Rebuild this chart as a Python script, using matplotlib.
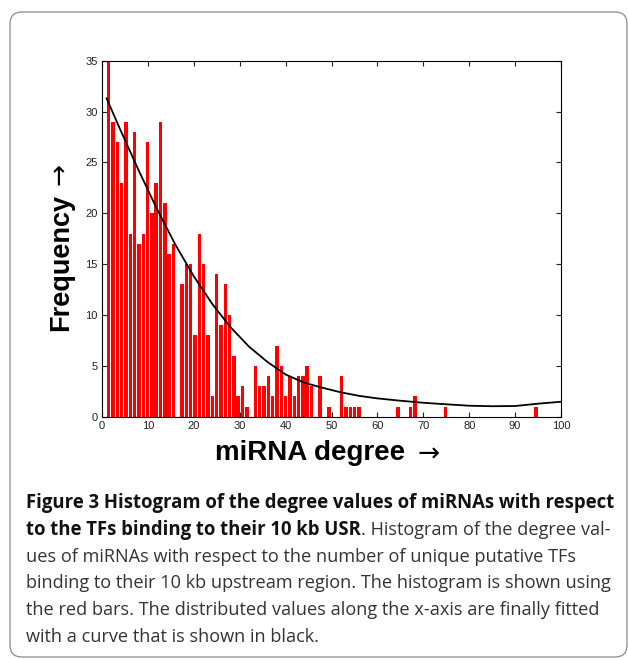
import numpy as np
import matplotlib
matplotlib.use('Agg')
import matplotlib.pyplot as plt
from matplotlib.patches import FancyBboxPatch

# ---------------- data ----------------
degree_min = 1
degree_max = 95
counts = [35, 29, 27, 23, 29, 18, 28, 17, 18, 27,
          20, 23, 29, 21, 16, 17, 0, 13, 15, 15,
          8, 18, 15, 8, 2, 14, 9, 13, 10, 6,
          2, 3, 1, 0, 5, 3, 3, 4, 2, 7,
          5, 2, 4, 2, 4, 4, 5, 3, 0, 4,
          0, 1, 0, 0, 4, 1, 1, 1, 1, 0,
          0, 0, 0, 0, 0, 0, 0, 1, 0, 0,
          1, 2, 0, 0, 0, 0, 0, 0, 1, 0,
          0, 0, 0, 0, 0, 0, 0, 0, 0, 0,
          0, 0, 0, 0, 0, 0, 0, 0, 0, 1]
curve_x = [1, 4, 8, 12, 16, 20, 24, 28, 32, 36, 40, 44, 48, 52, 56, 60,
           65, 70, 75, 80, 85, 90, 95, 100]
curve_y = [31.3, 28.2, 24.2, 20.4, 16.9, 13.8, 11.1, 8.8, 6.9, 5.4, 4.15, 3.35,
           2.85, 2.4, 2.05, 1.8, 1.57, 1.37, 1.22, 1.08, 1.03, 1.05, 1.28, 1.47]
x_ticks = [0, 10, 20, 30, 40, 50, 60, 70, 80, 90, 100]
y_ticks = [0, 5, 10, 15, 20, 25, 30, 35]
x_label = 'miRNA degree'
y_label = 'Frequency'
arrow = '\u2192'
cap_bold_1 = 'Figure 3 Histogram of the degree values of miRNAs with respect'
cap_bold_2 = 'to the TFs binding to their 10 kb USR'
cap_norm_2 = '. Histogram of the degree val-'
cap_lines = ['ues of miRNAs with respect to the number of unique putative TFs',
             'binding to their 10 kb upstream region. The histogram is shown using',
             'the red bars. The distributed values along the x-axis are finally fitted',
             'with a curve that is shown in black.']

# ---------------- figure ----------------
W, H = 628, 660
fig = plt.figure(figsize=(W / 100, H / 100), dpi=100)
fig.patch.set_facecolor('white')

bg = fig.add_axes([0, 0, 1, 1])
bg.set_xlim(0, W)
bg.set_ylim(H, 0)
bg.axis('off')
frame = FancyBboxPatch((10, 12), 617, 645, boxstyle='round,pad=0,rounding_size=12',
                       fill=False, ec='#8a8a8a', lw=0.9)
bg.add_patch(frame)

ax_l, ax_r, ax_t, ax_b = 102, 561, 60.7, 416.7
ax = fig.add_axes([ax_l / W, 1 - ax_b / H, (ax_r - ax_l) / W, (ax_b - ax_t) / H])
edges = np.linspace(degree_min, degree_max, len(counts) + 1)
centers = (edges[:-1] + edges[1:]) / 2
bw = (edges[1] - edges[0]) * 0.8
ax.bar(centers, counts, width=bw, color='#ff0000', edgecolor='none', zorder=2)
ax.plot(curve_x, curve_y, color='black', lw=1.3, zorder=3)
ax.set_xlim(0, 100)
ax.set_ylim(0, 35)
ax.set_xticks(x_ticks)
ax.set_yticks(y_ticks)
tick_font = ['Liberation Sans', 'DejaVu Sans']
ax.tick_params(direction='in', length=3.5, width=0.8, top=True, right=True,
               labelsize=8, colors='#222222', pad=3)
for lab in ax.get_xticklabels() + ax.get_yticklabels():
    lab.set_family(tick_font)
for s in ax.spines.values():
    s.set_linewidth(0.8)
    s.set_color('black')

# axis labels (text + long thin arrow)
bg.text(61, 331, y_label, rotation=90, ha='left', va='center',
        fontsize=19.5, fontweight='bold', family=tick_font, color='black',
        rotation_mode='anchor')
bg.text(60, 174, arrow, rotation=90, ha='center', va='center',
        fontsize=19, family=['DejaVu Sans'], color='black')
bg.text(215, 453, x_label, ha='left', va='center',
        fontsize=20, fontweight='bold', family=tick_font, color='black')
bg.text(429, 455, arrow, ha='center', va='center',
        fontsize=19, family=['DejaVu Sans'], color='black')

# ---------------- caption ----------------
cap_font = ['Open Sans', 'DejaVu Sans']
bold_col = '#111111'
norm_col = '#333333'
x0 = 26
baselines = [508, 535, 562, 588, 615, 642]

fig.canvas.draw()
rend = fig.canvas.get_renderer()


def fitted_size(txt, weight, target):
    t = bg.text(0, 0, txt, fontsize=12, fontweight=weight, family=cap_font)
    fs = 12
    for _ in range(3):
        t.set_fontsize(fs)
        w = t.get_window_extent(rend).width
        fs = fs * target / w
    t.remove()
    return fs


fs_b = fitted_size(cap_bold_1, 'bold', 586)
fs_n = fitted_size(cap_lines[1], 'normal', 584)

bg.text(x0, baselines[0], cap_bold_1, fontsize=fs_b, fontweight='bold',
        family=cap_font, color=bold_col, va='baseline', ha='left')
tb = bg.text(x0, baselines[1], cap_bold_2, fontsize=fs_b, fontweight='bold',
             family=cap_font, color=bold_col, va='baseline', ha='left')
bb = tb.get_window_extent(rend)
bg.text(bb.x1, baselines[1], cap_norm_2, fontsize=fs_n, fontweight='normal',
        family=cap_font, color=norm_col, va='baseline', ha='left')
for ln, yb in zip(cap_lines, baselines[2:]):
    bg.text(x0, yb, ln, fontsize=fs_n, fontweight='normal', family=cap_font,
            color=norm_col, va='baseline', ha='left')

fig.savefig('out.png', dpi=100, facecolor='white')
